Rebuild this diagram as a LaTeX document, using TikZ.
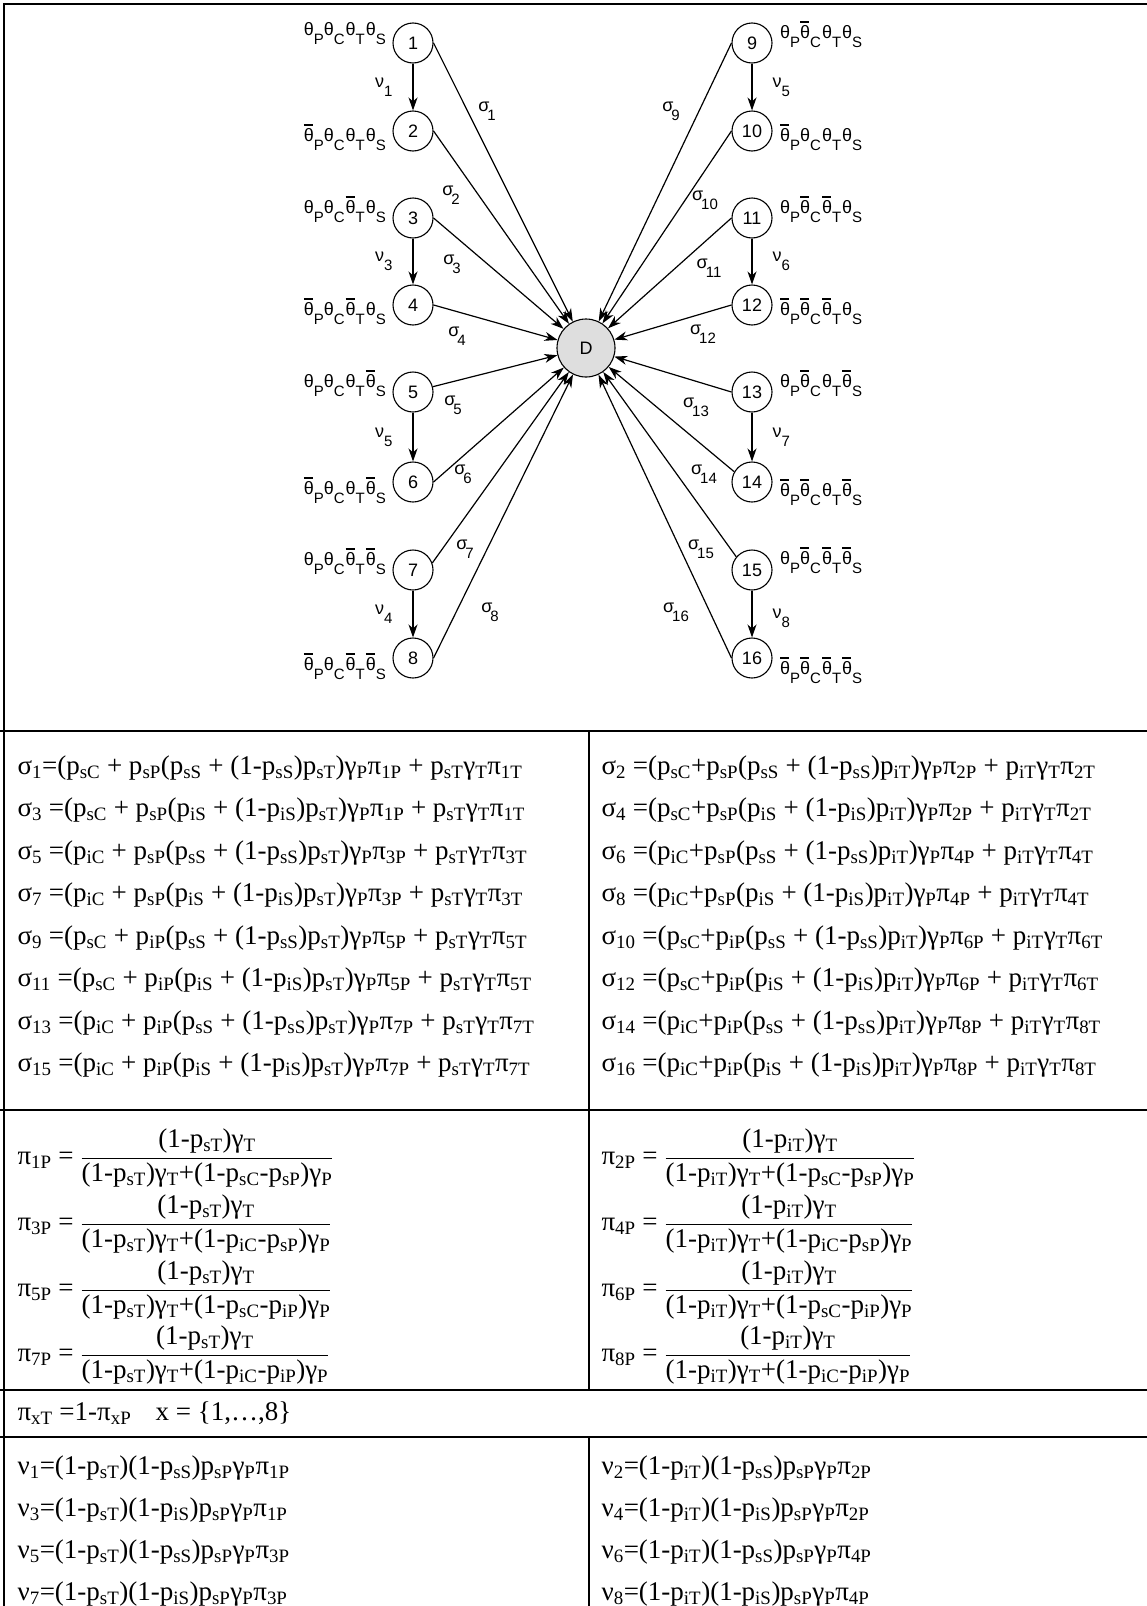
\documentclass[tikz,border=0pt]{standalone}
\usepackage{fontspec}
\setmainfont{Liberation Serif}
\newfontfamily\arial{Liberation Sans}
\usetikzlibrary{calc,arrows.meta,positioning}

% subscripts in the formulas
\newcommand\ix[1]{\textsubscript{#1}}
\newcommand\pp[1]{p\ix{#1}}
\newcommand\gm[1]{γ\ix{#1}}
\newcommand\pim[1]{π\ix{#1}}
\newcommand\pfrac[2]{$\displaystyle\frac{\hbox{#1}}{\hbox{#2}}$}
% subscripts and bars in the diagram
\newcommand\lo[1]{\raisebox{-0.5em}{\fontsize{15}{15}\selectfont #1}}
\newcommand\thb{\rlap{\rule[0.86em]{0.5em}{0.11em}}θ}
\newcommand\tq[1]{\ifnum#1=1 \thb\else θ\fi}
\newcommand\thst[4]{\tq{#1}\lo{P}\tq{#2}\lo{C}\kern1pt\tq{#3}\lo{T}\kern1pt\tq{#4}\lo{S}}
\newcommand\sig[1]{σ\kern-2pt\lo{#1}}
\newcommand\nul[1]{ν\lo{#1}}

\tikzset{
  st/.style={circle,draw,line width=1.1pt,minimum size=40pt,inner sep=0pt,
    font=\arial\fontsize{18}{20}\selectfont},
  dst/.style={st,fill=black!13,minimum size=58pt},
  thlab/.style={inner sep=0pt,font=\arial\fontsize{18}{20}\selectfont},
  fml/.style={anchor=west,inner sep=0pt,font=\fontsize{27}{31}\selectfont},
  sep/.style={line width=2.2pt},
}

\begin{document}
\begin{tikzpicture}[x=1pt,y=-1pt,line width=1.2pt,
    >={Stealth[length=13pt,width=9pt,inset=4pt]}]
  \useasboundingbox (0,0) rectangle (1147,1606);
  % frame and table lines
  \draw[sep] (4,1620) -- (4,4) -- (1160,4);
  \draw[sep] (0,731) -- (1160,731);
  \draw[sep] (0,1110) -- (1160,1110);
  \draw[sep] (0,1390) -- (1160,1390);
  \draw[sep] (0,1437) -- (1160,1437);
  \draw[sep] (589,731) -- (589,1390);
  \draw[sep] (589,1437) -- (589,1620);

  % states
  \node[dst] (D) at (586,348) {D};
  \node[st] (n1) at (413,43) {1};
  \node[st] (n2) at (413,131) {2};
  \node[st] (n3) at (413,218) {3};
  \node[st] (n4) at (413,305) {4};
  \node[st] (n5) at (413,392) {5};
  \node[st] (n6) at (413,482) {6};
  \node[st] (n7) at (413,570) {7};
  \node[st] (n8) at (413,658) {8};
  \node[st] (n9) at (752,43) {9};
  \node[st] (n10) at (752,131) {10};
  \node[st] (n11) at (752,218) {11};
  \node[st] (n12) at (752,305) {12};
  \node[st] (n13) at (752,392) {13};
  \node[st] (n14) at (752,482) {14};
  \node[st] (n15) at (752,570) {15};
  \node[st] (n16) at (752,658) {16};

  \node[thlab,left=6pt of n1,yshift=9pt] (t1) {\thst{0}{0}{0}{0}};
  \node[thlab,left=6pt of n2,yshift=-6pt] (t2) {\thst{1}{0}{0}{0}};
  \node[thlab,left=6pt of n3,yshift=9pt] (t3) {\thst{0}{0}{1}{0}};
  \node[thlab,left=6pt of n4,yshift=-6pt] (t4) {\thst{1}{0}{1}{0}};
  \node[thlab,left=6pt of n5,yshift=9pt] (t5) {\thst{0}{0}{0}{1}};
  \node[thlab,left=6pt of n6,yshift=-8pt] (t6) {\thst{1}{0}{0}{1}};
  \node[thlab,left=6pt of n7,yshift=9pt] (t7) {\thst{0}{0}{1}{1}};
  \node[thlab,left=6pt of n8,yshift=-8pt] (t8) {\thst{1}{0}{1}{1}};
  \node[thlab,right=7pt of n9,yshift=9pt] (t9) {\thst{0}{1}{0}{0}};
  \node[thlab,right=7pt of n10,yshift=-6pt] (t10) {\thst{1}{0}{0}{0}};
  \node[thlab,right=7pt of n11,yshift=9pt] (t11) {\thst{0}{1}{1}{0}};
  \node[thlab,right=7pt of n12,yshift=-6pt] (t12) {\thst{1}{1}{1}{0}};
  \node[thlab,right=7pt of n13,yshift=9pt] (t13) {\thst{0}{1}{0}{1}};
  \node[thlab,right=7pt of n14,yshift=-10pt] (t14) {\thst{1}{1}{0}{1}};
  \node[thlab,right=7pt of n15,yshift=10pt] (t15) {\thst{0}{1}{1}{1}};
  \node[thlab,right=7pt of n16,yshift=-12pt] (t16) {\thst{1}{1}{1}{1}};

  % transitions
  \draw[->] (n1) -- node[thlab,left=20pt] (v1) {\nul{1}} (n2);
  \draw[->] (n3) -- node[thlab,left=20pt] (v3) {\nul{3}} (n4);
  \draw[->] (n5) -- node[thlab,left=20pt] (v5) {\nul{5}} (n6);
  \draw[->] (n7) -- node[thlab,left=20pt] (v7) {\nul{4}} (n8);
  \draw[->] (n9) -- node[thlab,right=20pt] (v9) {\nul{5}} (n10);
  \draw[->] (n11) -- node[thlab,right=20pt] (v11) {\nul{6}} (n12);
  \draw[->] (n13) -- node[thlab,right=20pt] (v13) {\nul{7}} (n14);
  \draw[->] (n15) -- node[thlab,right=20pt,yshift=-4pt] (v15) {\nul{8}} (n16);

  \draw[->] (n1.east) -- (D);
  \draw[->] (n2.east) -- (D);
  \draw[->] (n3.east) -- (D);
  \draw[->] (n4.east) -- (D);
  \draw[->] (n5.15) -- (D);
  \draw[->] (n6.east) -- (D);
  \draw[->] (n7.20) -- (D);
  \draw[->] (n8.east) -- (D);
  \draw[->] (n9.west) -- (D);
  \draw[->] (n10.west) -- (D);
  \draw[->] (n11.west) -- (D);
  \draw[->] (n12.west) -- (D);
  \draw[->] (n13.west) -- (D);
  \draw[->] (n14.150) -- (D);
  \draw[->] (n15.140) -- (D);
  \draw[->] (n16.west) -- (D);

  \node[thlab] (s1) at (487,111) {\sig{1}};
  \node[thlab] (s2) at (451,195) {\sig{2}};
  \node[thlab] (s3) at (452,264) {\sig{3}};
  \node[thlab] (s4) at (457,336) {\sig{4}};
  \node[thlab] (s5) at (453,405) {\sig{5}};
  \node[thlab] (s6) at (463,474) {\sig{6}};
  \node[thlab] (s7) at (465,549) {\sig{7}};
  \node[thlab] (s8) at (490,612) {\sig{8}};
  \node[thlab] (s9) at (671,111) {\sig{9}};
  \node[thlab] (s10) at (705,200) {\sig{10}};
  \node[thlab] (s11) at (709,268) {\sig{11}};
  \node[thlab] (s12) at (703,334) {\sig{12}};
  \node[thlab] (s13) at (696,407) {\sig{13}};
  \node[thlab] (s14) at (704,474) {\sig{14}};
  \node[thlab] (s15) at (701,549) {\sig{15}};
  \node[thlab] (s16) at (676,612) {\sig{16}};

  % exit rates
  \node[fml] (e1) at (17,768) {σ\ix{1}=(\pp{sC} + \pp{sP}(\pp{sS} + (1-\pp{sS})\pp{sT})\gm{P}\pim{1P} + \pp{sT}\gm{T}\pim{1T}};
  \node[fml] (e3) at (17,810) {σ\ix{3} =(\pp{sC} + \pp{sP}(\pp{iS} + (1-\pp{iS})\pp{sT})\gm{P}\pim{1P} + \pp{sT}\gm{T}\pim{1T}};
  \node[fml] (e5) at (17,853) {σ\ix{5} =(\pp{iC} + \pp{sP}(\pp{sS} + (1-\pp{sS})\pp{sT})\gm{P}\pim{3P} + \pp{sT}\gm{T}\pim{3T}};
  \node[fml] (e7) at (17,895) {σ\ix{7} =(\pp{iC} + \pp{sP}(\pp{iS} + (1-\pp{iS})\pp{sT})\gm{P}\pim{3P} + \pp{sT}\gm{T}\pim{3T}};
  \node[fml] (e9) at (17,938) {σ\ix{9} =(\pp{sC} + \pp{iP}(\pp{sS} + (1-\pp{sS})\pp{sT})\gm{P}\pim{5P} + \pp{sT}\gm{T}\pim{5T}};
  \node[fml] (e11) at (17,980) {σ\ix{11} =(\pp{sC} + \pp{iP}(\pp{iS} + (1-\pp{iS})\pp{sT})\gm{P}\pim{5P} + \pp{sT}\gm{T}\pim{5T}};
  \node[fml] (e13) at (17,1023) {σ\ix{13} =(\pp{iC} + \pp{iP}(\pp{sS} + (1-\pp{sS})\pp{sT})\gm{P}\pim{7P} + \pp{sT}\gm{T}\pim{7T}};
  \node[fml] (e15) at (17,1065) {σ\ix{15} =(\pp{iC} + \pp{iP}(\pp{iS} + (1-\pp{iS})\pp{sT})\gm{P}\pim{7P} + \pp{sT}\gm{T}\pim{7T}};
  \node[fml] (e2) at (601,768) {σ\ix{2} =(\pp{sC}+\pp{sP}(\pp{sS} + (1-\pp{sS})\pp{iT})\gm{P}\pim{2P} + \pp{iT}\gm{T}\pim{2T}};
  \node[fml] (e4) at (601,810) {σ\ix{4} =(\pp{sC}+\pp{sP}(\pp{iS} + (1-\pp{iS})\pp{iT})\gm{P}\pim{2P} + \pp{iT}\gm{T}\pim{2T}};
  \node[fml] (e6) at (601,853) {σ\ix{6} =(\pp{iC}+\pp{sP}(\pp{sS} + (1-\pp{sS})\pp{iT})\gm{P}\pim{4P} + \pp{iT}\gm{T}\pim{4T}};
  \node[fml] (e8) at (601,895) {σ\ix{8} =(\pp{iC}+\pp{sP}(\pp{iS} + (1-\pp{iS})\pp{iT})\gm{P}\pim{4P} + \pp{iT}\gm{T}\pim{4T}};
  \node[fml] (e10) at (601,938) {σ\ix{10} =(\pp{sC}+\pp{iP}(\pp{sS} + (1-\pp{sS})\pp{iT})\gm{P}\pim{6P} + \pp{iT}\gm{T}\pim{6T}};
  \node[fml] (e12) at (601,980) {σ\ix{12} =(\pp{sC}+\pp{iP}(\pp{iS} + (1-\pp{iS})\pp{iT})\gm{P}\pim{6P} + \pp{iT}\gm{T}\pim{6T}};
  \node[fml] (e14) at (601,1023) {σ\ix{14} =(\pp{iC}+\pp{iP}(\pp{sS} + (1-\pp{sS})\pp{iT})\gm{P}\pim{8P} + \pp{iT}\gm{T}\pim{8T}};
  \node[fml] (e16) at (601,1065) {σ\ix{16} =(\pp{iC}+\pp{iP}(\pp{iS} + (1-\pp{iS})\pp{iT})\gm{P}\pim{8P} + \pp{iT}\gm{T}\pim{8T}};

  % shares
  \node[fml] (f1) at (17,1158) {\pim{1P} = \pfrac{(1-\pp{sT})\gm{T}}{(1-\pp{sT})\gm{T}+(1-\pp{sC}-\pp{sP})\gm{P}}};
  \node[fml] (f3) at (17,1224) {\pim{3P} = \pfrac{(1-\pp{sT})\gm{T}}{(1-\pp{sT})\gm{T}+(1-\pp{iC}-\pp{sP})\gm{P}}};
  \node[fml] (f5) at (17,1290) {\pim{5P} = \pfrac{(1-\pp{sT})\gm{T}}{(1-\pp{sT})\gm{T}+(1-\pp{sC}-\pp{iP})\gm{P}}};
  \node[fml] (f7) at (17,1355) {\pim{7P} = \pfrac{(1-\pp{sT})\gm{T}}{(1-\pp{sT})\gm{T}+(1-\pp{iC}-\pp{iP})\gm{P}}};
  \node[fml] (f2) at (601,1158) {\pim{2P} = \pfrac{(1-\pp{iT})\gm{T}}{(1-\pp{iT})\gm{T}+(1-\pp{sC}-\pp{sP})\gm{P}}};
  \node[fml] (f4) at (601,1224) {\pim{4P} = \pfrac{(1-\pp{iT})\gm{T}}{(1-\pp{iT})\gm{T}+(1-\pp{iC}-\pp{sP})\gm{P}}};
  \node[fml] (f6) at (601,1290) {\pim{6P} = \pfrac{(1-\pp{iT})\gm{T}}{(1-\pp{iT})\gm{T}+(1-\pp{sC}-\pp{iP})\gm{P}}};
  \node[fml] (f8) at (601,1355) {\pim{8P} = \pfrac{(1-\pp{iT})\gm{T}}{(1-\pp{iT})\gm{T}+(1-\pp{iC}-\pp{iP})\gm{P}}};

  \node[fml] (fx) at (17,1413) {\pim{xT} =1-\pim{xP}\hspace{0.9em}x = \{1,…,8\}};

  % transition rates
  \node[fml] (r1) at (17,1468) {ν\ix{1}=(1-\pp{sT})(1-\pp{sS})\pp{sP}\gm{P}\pim{1P}};
  \node[fml] (r3) at (17,1510) {ν\ix{3}=(1-\pp{sT})(1-\pp{iS})\pp{sP}\gm{P}\pim{1P}};
  \node[fml] (r5) at (17,1552) {ν\ix{5}=(1-\pp{sT})(1-\pp{sS})\pp{sP}\gm{P}\pim{3P}};
  \node[fml] (r7) at (17,1594) {ν\ix{7}=(1-\pp{sT})(1-\pp{iS})\pp{sP}\gm{P}\pim{3P}};
  \node[fml] (r2) at (601,1468) {ν\ix{2}=(1-\pp{iT})(1-\pp{sS})\pp{sP}\gm{P}\pim{2P}};
  \node[fml] (r4) at (601,1510) {ν\ix{4}=(1-\pp{iT})(1-\pp{iS})\pp{sP}\gm{P}\pim{2P}};
  \node[fml] (r6) at (601,1552) {ν\ix{6}=(1-\pp{iT})(1-\pp{sS})\pp{sP}\gm{P}\pim{4P}};
  \node[fml] (r8) at (601,1594) {ν\ix{8}=(1-\pp{iT})(1-\pp{iS})\pp{sP}\gm{P}\pim{4P}};
\end{tikzpicture}
\end{document}
